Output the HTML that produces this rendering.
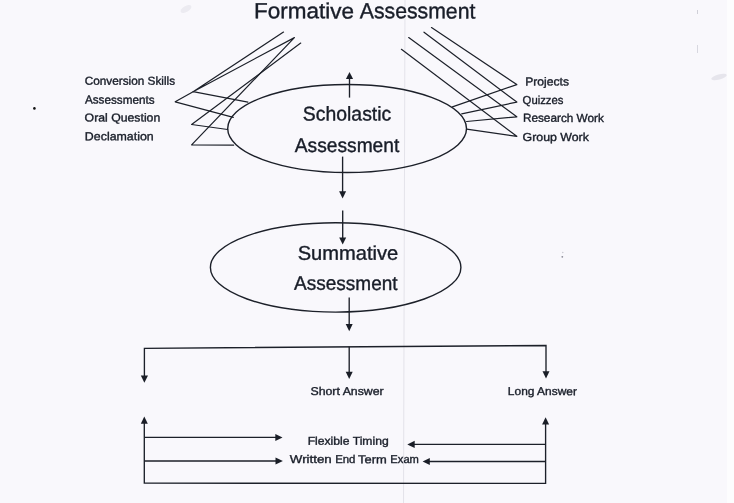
<!DOCTYPE html>
<html><head><meta charset="utf-8"><style>
html,body{margin:0;padding:0;background:#f9f8fc;}
body{width:734px;height:503px;overflow:hidden;position:relative;}
svg{position:absolute;left:0;top:0;display:block;will-change:transform;}
text{font-family:"Liberation Sans",sans-serif;fill:#181d28;stroke:#181d28;stroke-width:0.38px;}
text.s{stroke-width:0.36px;}
</style></head><body>
<svg width="734" height="503" viewBox="0 0 734 503">
<rect x="0" y="0" width="734" height="503" fill="#f9f8fc"/>
<rect x="727" y="0" width="7" height="503" fill="#fdfdfe"/>
<line x1="405.0" y1="0" x2="403.5" y2="503" stroke="#e4e3ea" stroke-width="1"/>
<g stroke="#1c2029" stroke-width="1.2" fill="none" stroke-linecap="round" stroke-linejoin="round">
<polyline points="283.5,32.1 193.1,91.7 294.4,37.6 191.6,144.9 233.6,145.2"/>
<polyline points="300.7,43.1 191.6,124.5 227.6,129.5"/>
<polyline points="247.9,102.1 193.1,91.7 175.2,101.8 233.3,117.4"/>
<polyline points="431.5,27.6 516.8,84.6 452.4,106.9"/>
<polyline points="424.0,32.2 516.8,102.1 461.7,113.9"/>
<polyline points="408.7,37.6 516.8,116.8 466.6,121.5"/>
<polyline points="401.4,49.3 516.8,136.3 466.6,129.2"/>
</g>
<g stroke="#1c2029" stroke-width="1.4" fill="none">
<ellipse cx="347.1" cy="128.5" rx="119.4" ry="44"/>
<ellipse cx="335.65" cy="267.4" rx="125.25" ry="44.7"/>
</g>
<g stroke="#1c2029" stroke-width="1.35" fill="none">
<line x1="349.5" y1="97.6" x2="349.5" y2="76"/>
<line x1="342.6" y1="156.6" x2="342.6" y2="192"/>
<line x1="342.7" y1="210.4" x2="342.7" y2="239"/>
<line x1="349.2" y1="297.5" x2="349.2" y2="325"/>
<polyline points="144.4,376 144.4,348.3 546.0,345.5 546.0,372"/>
<line x1="349.2" y1="346.8" x2="349.2" y2="373"/>
<polyline points="144.3,423 144.3,483.2 545.6,483.4 545.6,424"/>
<line x1="144.3" y1="437.4" x2="276" y2="437.4"/>
<line x1="144.3" y1="461.0" x2="276" y2="461.0"/>
<line x1="545.6" y1="444.4" x2="414" y2="444.4"/>
<line x1="545.6" y1="461.5" x2="429" y2="461.5"/>
</g>
<g fill="#1a1e27" stroke="none">
<polygon points="349.5,72.0 345.9,79.0 353.1,79.0"/>
<polygon points="342.6,198.4 339.1,191.2 346.1,191.2"/>
<polygon points="342.7,244.4 339.2,237.4 346.2,237.4"/>
<polygon points="349.2,331.3 345.7,324.1 352.7,324.1"/>
<polygon points="144.4,382.7 140.8,375.4 148.0,375.4"/>
<polygon points="546.0,378.4 542.5,371.2 549.5,371.2"/>
<polygon points="349.2,378.9 345.7,371.7 352.7,371.7"/>
<polygon points="144.3,416.6 140.8,423.8 147.8,423.8"/>
<polygon points="545.6,417.2 542.1,424.4 549.1,424.4"/>
<polygon points="282.5,437.4 275.3,433.9 275.3,440.9"/>
<polygon points="282.9,461.0 275.5,457.5 275.5,464.5"/>
<polygon points="407.3,444.4 414.7,440.7 414.7,448.1"/>
<polygon points="422.6,461.5 429.8,458.0 429.8,465.0"/>
</g>
<circle cx="34.4" cy="108.4" r="1.3" fill="#111"/>
<circle cx="562.3" cy="256.8" r="0.9" fill="#8a8a96"/>
<circle cx="562.8" cy="252.5" r="0.7" fill="#c4c4cc"/>
<ellipse cx="719" cy="77" rx="8" ry="2.5" fill="#e6e5ec" transform="rotate(-15 719 77)"/>
<ellipse cx="186" cy="9" rx="6" ry="3" fill="#ecebf1" transform="rotate(-30 186 9)"/>
<rect x="697" y="10" width="1" height="4" fill="#d0d0d8"/>
<rect x="697" y="45" width="1" height="8" fill="#d8d8e0"/>

<text x="254.14" y="18.30" font-size="21.9" textLength="99.98" lengthAdjust="spacingAndGlyphs" transform="rotate(0.05 254.14 18.30)">Formative</text>
<text x="359.76" y="18.30" font-size="21.9" textLength="115.59" lengthAdjust="spacingAndGlyphs" transform="rotate(0.05 359.76 18.30)">Assessment</text>
<text x="302.87" y="120.47" font-size="19.9" textLength="88.35" lengthAdjust="spacingAndGlyphs" transform="rotate(0.05 302.87 120.47)">Scholastic</text>
<text x="294.82" y="151.93" font-size="19.9" textLength="104.49" lengthAdjust="spacingAndGlyphs" transform="rotate(0.05 294.82 151.93)">Assessment</text>
<text x="297.67" y="259.65" font-size="19.8" textLength="100.55" lengthAdjust="spacingAndGlyphs" transform="rotate(0.05 297.67 259.65)">Summative</text>
<text x="294.11" y="289.85" font-size="19.8" textLength="103.43" lengthAdjust="spacingAndGlyphs" transform="rotate(0.05 294.11 289.85)">Assessment</text>
<text x="84.65" y="84.74" font-size="11.6" textLength="90.42" lengthAdjust="spacingAndGlyphs" transform="rotate(0.05 84.65 84.74)" class="s">Conversion Skills</text>
<text x="84.95" y="103.62" font-size="11.6" textLength="69.62" lengthAdjust="spacingAndGlyphs" transform="rotate(0.05 84.95 103.62)" class="s">Assessments</text>
<text x="84.61" y="121.50" font-size="11.6" textLength="75.64" lengthAdjust="spacingAndGlyphs" transform="rotate(0.05 84.61 121.50)" class="s">Oral Question</text>
<text x="84.87" y="140.29" font-size="11.6" textLength="68.83" lengthAdjust="spacingAndGlyphs" transform="rotate(0.05 84.87 140.29)" class="s">Declamation</text>
<text x="525.26" y="85.50" font-size="11.6" textLength="43.79" lengthAdjust="spacingAndGlyphs" transform="rotate(0.05 525.26 85.50)" class="s">Projects</text>
<text x="522.61" y="103.94" font-size="11.6" textLength="40.78" lengthAdjust="spacingAndGlyphs" transform="rotate(0.05 522.61 103.94)" class="s">Quizzes</text>
<text x="522.88" y="121.85" font-size="11.6" textLength="81.06" lengthAdjust="spacingAndGlyphs" transform="rotate(0.05 522.88 121.85)" class="s">Research Work</text>
<text x="522.60" y="140.95" font-size="11.6" textLength="66.25" lengthAdjust="spacingAndGlyphs" transform="rotate(0.05 522.60 140.95)" class="s">Group Work</text>
<text x="310.47" y="394.96" font-size="11.3" textLength="73.21" lengthAdjust="spacingAndGlyphs" transform="rotate(0.05 310.47 394.96)" class="s">Short Answer</text>
<text x="507.88" y="395.08" font-size="11.3" textLength="69.10" lengthAdjust="spacingAndGlyphs" transform="rotate(0.05 507.88 395.08)" class="s">Long Answer</text>
<text x="307.68" y="444.76" font-size="11.3" textLength="81.00" lengthAdjust="spacingAndGlyphs" transform="rotate(0.05 307.68 444.76)" class="s">Flexible Timing</text>
<text x="289.82" y="463.02" font-size="11.3" textLength="41.92" lengthAdjust="spacingAndGlyphs" transform="rotate(0.05 289.82 463.02)" class="s">Written</text>
<text x="335.15" y="463.02" font-size="11.3" textLength="20.33" lengthAdjust="spacingAndGlyphs" transform="rotate(0.05 335.15 463.02)" class="s">End</text>
<text x="358.09" y="463.14" font-size="11.3" textLength="28.69" lengthAdjust="spacingAndGlyphs" transform="rotate(0.05 358.09 463.14)" class="s">Term</text>
<text x="390.35" y="463.02" font-size="11.3" textLength="28.60" lengthAdjust="spacingAndGlyphs" transform="rotate(0.05 390.35 463.02)" class="s">Exam</text>
</svg>
</body></html>
